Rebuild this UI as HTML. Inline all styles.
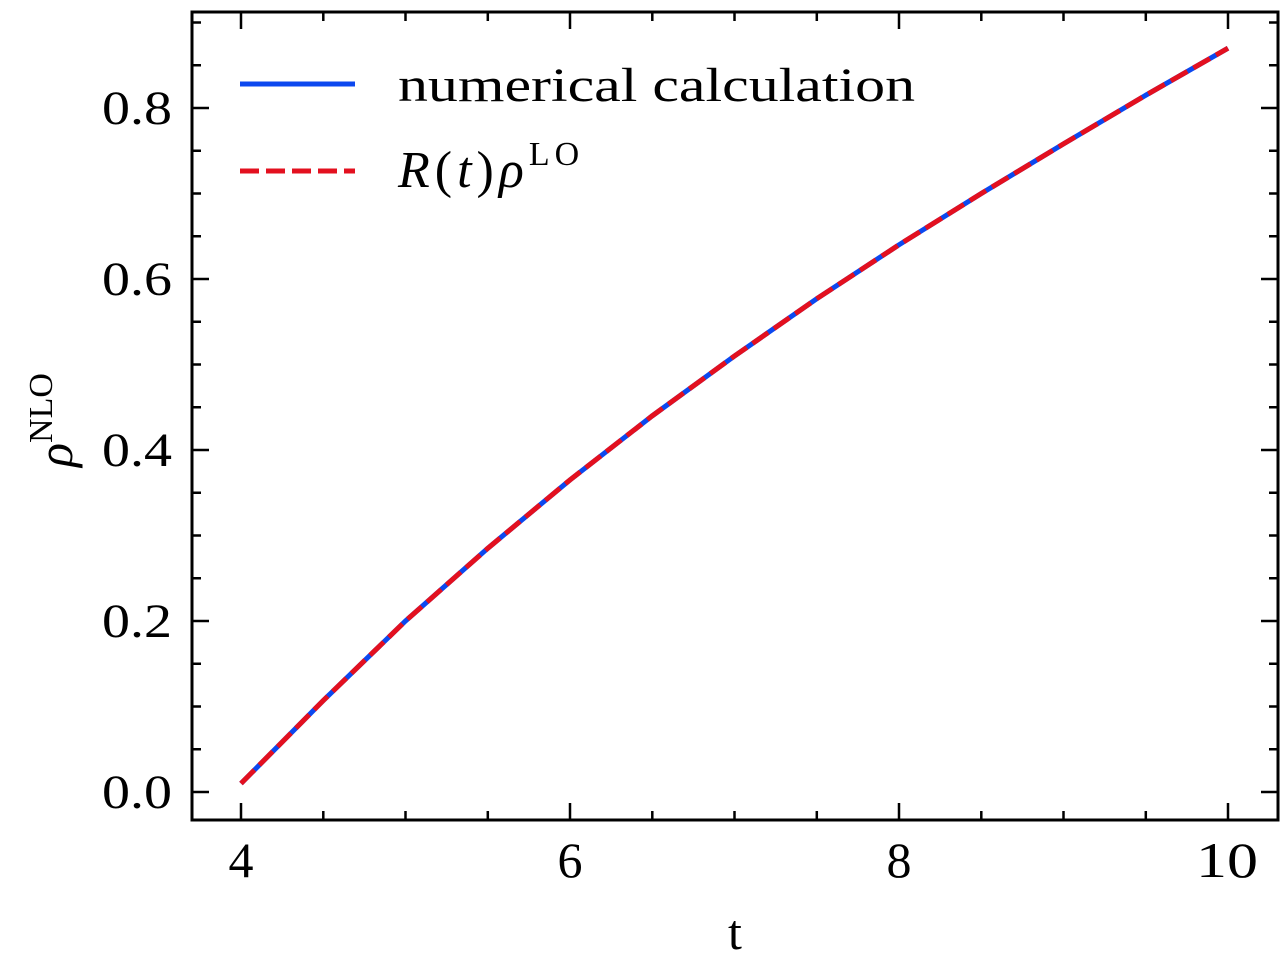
<!DOCTYPE html>
<html><head><style>body{margin:0;background:#fff}</style></head><body>
<svg width="1287" height="959" xmlns="http://www.w3.org/2000/svg" font-family="Liberation Serif, serif">
<g stroke="#000" stroke-width="2.5">
<path d="M241 820v-17M570 820v-17M899 820v-17M1228 820v-17M241 12v17M570 12v17M899 12v17M1228 12v17"/>
<path d="M323.3 820v-9M405.5 820v-9M487.8 820v-9M652.3 820v-9M734.5 820v-9M816.8 820v-9M981.3 820v-9M1063.5 820v-9M1145.8 820v-9M323.3 12v9M405.5 12v9M487.8 12v9M652.3 12v9M734.5 12v9M816.8 12v9M981.3 12v9M1063.5 12v9M1145.8 12v9"/>
<path d="M192 792h17M192 621h17M192 450h17M192 279h17M192 108h17M1278 792h-17M1278 621h-17M1278 450h-17M1278 279h-17M1278 108h-17"/>
<path d="M192 749.3h9M192 706.5h9M192 663.8h9M192 578.3h9M192 535.5h9M192 492.8h9M192 407.3h9M192 364.5h9M192 321.8h9M192 236.3h9M192 193.5h9M192 150.8h9M192 65.3h9M192 22.5h9M1278 749.3h-9M1278 706.5h-9M1278 663.8h-9M1278 578.3h-9M1278 535.5h-9M1278 492.8h-9M1278 407.3h-9M1278 364.5h-9M1278 321.8h-9M1278 236.3h-9M1278 193.5h-9M1278 150.8h-9M1278 65.3h-9M1278 22.5h-9"/>
</g>
<rect x="192" y="12" width="1086" height="808" fill="none" stroke="#000" stroke-width="3"/>
<g font-size="48">
<text x="102" y="808" textLength="70" lengthAdjust="spacingAndGlyphs">0.0</text><text x="102" y="637" textLength="70" lengthAdjust="spacingAndGlyphs">0.2</text><text x="102" y="466" textLength="70" lengthAdjust="spacingAndGlyphs">0.4</text><text x="102" y="295" textLength="70" lengthAdjust="spacingAndGlyphs">0.6</text><text x="102" y="124" textLength="70" lengthAdjust="spacingAndGlyphs">0.8</text>
</g>
<g font-size="50" text-anchor="middle">
<text x="241" y="877">4</text><text x="570" y="877">6</text><text x="899" y="877">8</text>
<text x="735" y="949">t</text>
</g>
<text x="1196" y="877" font-size="50" textLength="62" lengthAdjust="spacingAndGlyphs">10</text>
<text transform="translate(72,420) rotate(-90)" font-size="50" text-anchor="middle"><tspan font-style="italic">ρ</tspan><tspan font-size="34" dy="-20">NLO</tspan></text>
<g fill="none" stroke-width="5">
<polyline stroke="#0c48ef" points="241,783.5 323.3,700.5 405.5,621 487.8,548.3 570,479.9 652.3,415.8 734.5,356 816.8,298.7 899,244.8 981.3,193.5 1063.5,143.9 1145.8,95.2 1228,48.2"/>
<polyline stroke="#e3101f" stroke-dasharray="19,7" points="241,783.5 323.3,700.5 405.5,621 487.8,548.3 570,479.9 652.3,415.8 734.5,356 816.8,298.7 899,244.8 981.3,193.5 1063.5,143.9 1145.8,95.2 1228,48.2"/>
<line x1="240" y1="84" x2="355" y2="84" stroke="#0c48ef"/>
<line x1="240" y1="171" x2="355" y2="171" stroke="#e3101f" stroke-dasharray="19,7"/>
</g>
<text x="398" y="101" font-size="48" textLength="517" lengthAdjust="spacingAndGlyphs">numerical calculation</text>
<text x="398" y="187" font-size="52" letter-spacing="5"><tspan font-style="italic">R</tspan>(<tspan font-style="italic">t</tspan>)<tspan font-style="italic">ρ</tspan><tspan font-size="34" dy="-22">LO</tspan></text>
</svg>
</body></html>
